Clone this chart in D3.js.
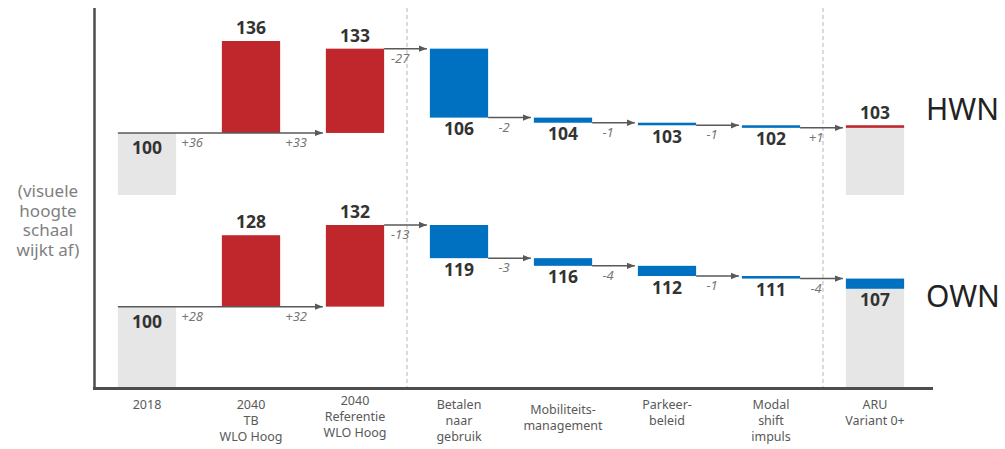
<!DOCTYPE html>
<html>
<head>
<meta charset="UTF-8">
<title>Waterval HWN / OWN</title>
<script src="https://cdn.jsdelivr.net/npm/d3@7"></script>
<style>
  body { margin: 0; background: #fff; }
  svg { display: block; font-family: "Noto Sans", "Open Sans", sans-serif; }
</style>
</head>
<body>
<svg id="chart" width="1005" height="449"></svg>
<script>
// categories (one entry per column, lines of the label)
const categories = [
  ["2018"],
  ["2040", "TB", "WLO Hoog"],
  ["2040", "Referentie", "WLO Hoog"],
  ["Betalen", "naar", "gebruik"],
  ["Mobiliteits-", "management"],
  ["Parkeer-", "beleid"],
  ["Modal", "shift", "impuls"],
  ["ARU", "Variant 0+"]
];
const labelShift = [0, 0, -4, 0, 5, 0, 0, 0];

const hwnValues = [100, 136, 133, 106, 104, 103, 102, 103];
const hwnSteps  = ["+36", "+33", "-27", "-2", "-1", "-1", "+1"];
const ownValues = [100, 128, 132, 119, 116, 112, 111, 107];
const ownSteps  = ["+28", "+32", "-13", "-3", "-4", "-1", "-4"];

// grey base bars are cut off (visual scale is not true)
const hwnFloor = 75.7;
const ownFloor = 68.5;

const note = ["(visuele", "hoogte", "schaal", "wijkt af)"];

const RED = "#c0272d", BLUE = "#0070c0", GREY = "#e6e6e6", LINE = "#595959";

const svg = d3.select("#chart");

const x = d3.scaleBand()
  .domain(d3.range(categories.length))
  .range([95, 927])
  .paddingInner(0.44)
  .paddingOuter(0.22);
const bw = x.bandwidth();

svg.append("defs").append("marker")
  .attr("id", "arrow")
  .attr("viewBox", "0 0 10 10")
  .attr("refX", 10).attr("refY", 5)
  .attr("markerWidth", 8).attr("markerHeight", 8)
  .attr("markerUnits", "userSpaceOnUse")
  .attr("orient", "auto")
  .append("path")
  .attr("d", "M0,1 L10,5 L0,9 Z")
  .attr("fill", LINE);

// dashed separators
const seps = [2, 6].map(i => (x(i) + bw + x(i + 1)) / 2);
svg.selectAll("line.sep").data(seps).join("line")
  .attr("class", "sep")
  .attr("x1", d => d).attr("x2", d => d)
  .attr("y1", 8).attr("y2", 388)
  .attr("stroke", "#c4c4c4")
  .attr("stroke-width", 1.2)
  .attr("stroke-dasharray", "4,3");

const panels = [
  { name: "HWN", values: hwnValues, steps: hwnSteps, floor: hwnFloor, range: [195, 41], nameY: 120 },
  { name: "OWN", values: ownValues, steps: ownSteps, floor: ownFloor, range: [387, 225], nameY: 307 }
];

panels.forEach(p => {
  const v = p.values;
  const y = d3.scaleLinear().domain([p.floor, d3.max(v)]).range(p.range);
  const g = svg.append("g");
  const last = v.length - 1;

  // bars
  const bars = [];
  v.forEach((val, i) => {
    if (i === 0) bars.push({ i, lo: p.floor, hi: val, fill: GREY });
    else if (i === last) {
      bars.push({ i, lo: p.floor, hi: val, fill: GREY });
      bars.push({ i, lo: Math.min(v[i - 1], val), hi: Math.max(v[i - 1], val), fill: val > v[i - 1] ? RED : BLUE });
    } else if (val > v[0] && i < 3) bars.push({ i, lo: v[0], hi: val, fill: RED });
    else bars.push({ i, lo: val, hi: v[i - 1], fill: BLUE });
  });

  g.selectAll("rect").data(bars).join("rect")
    .attr("x", d => x(d.i))
    .attr("width", bw)
    .attr("y", d => y(d.hi))
    .attr("height", d => y(d.lo) - y(d.hi))
    .attr("fill", d => d.fill);

  // connectors
  const links = [{ x0: x(0), x1: x(2) - 3, val: v[0] }];
  for (let i = 2; i < last; i++) links.push({ x0: x(i) + bw, x1: x(i + 1) - 3, val: v[i] });
  g.selectAll("line.link").data(links).join("line")
    .attr("class", "link")
    .attr("x1", d => d.x0).attr("x2", d => d.x1)
    .attr("y1", d => y(d.val)).attr("y2", d => y(d.val))
    .attr("stroke", LINE)
    .attr("stroke-width", 1.5)
    .attr("marker-end", "url(#arrow)");

  // step labels
  g.selectAll("text.step").data(p.steps).join("text")
    .attr("class", "step")
    .attr("x", (d, k) => x(k) + bw + 16)
    .attr("y", (d, k) => y(k < 2 ? v[0] : v[k]) + 14)
    .attr("text-anchor", "middle")
    .attr("font-size", 13)
    .attr("font-style", "italic")
    .attr("fill", "#767676")
    .text(d => d);

  // value labels
  const labelY = (val, i) => {
    if (i === 0) return y(val) + 21;
    if (i < 3) return y(val) - 7;
    if (i === last && val > v[i - 1]) return y(val) - 6;
    return y(val) + 17.5;
  };
  g.selectAll("text.val").data(v).join("text")
    .attr("class", "val")
    .attr("x", (d, i) => x(i) + bw / 2)
    .attr("y", (d, i) => labelY(d, i))
    .attr("text-anchor", "middle")
    .attr("font-size", 17.5)
    .attr("font-weight", "bold")
    .attr("fill", "#333")
    .text(d => d);

  g.append("text")
    .attr("x", 926)
    .attr("y", p.nameY)
    .attr("font-size", 30)
    .attr("fill", "#222")
    .text(p.name);
});

// frame
svg.append("line")
  .attr("x1", 94.5).attr("x2", 94.5).attr("y1", 8).attr("y2", 389.5)
  .attr("stroke", "#4d4d4d").attr("stroke-width", 2.5);

const xAxis = svg.append("g")
  .attr("transform", "translate(0,388)")
  .call(d3.axisBottom(x).tickSize(0).tickFormat(""));
xAxis.select(".domain").remove();
xAxis.selectAll(".tick text")
  .attr("y", 0).attr("dy", null)
  .attr("font-family", "Noto Sans, sans-serif")
  .attr("font-size", 12.5)
  .attr("fill", "#595959")
  .each(function(d) {
    d3.select(this).selectAll("tspan").data(categories[d]).join("tspan")
      .attr("x", 0)
      .attr("y", (t, j) => 21 + j * 16 + labelShift[d])
      .text(t => t);
  });

svg.append("line")
  .attr("x1", 93).attr("x2", 933).attr("y1", 388.5).attr("y2", 388.5)
  .attr("stroke", "#4d4d4d").attr("stroke-width", 3);

// side note
svg.append("text")
  .attr("text-anchor", "middle")
  .attr("font-size", 17)
  .attr("fill", "#7f7f7f")
  .selectAll("tspan").data(note).join("tspan")
  .attr("x", 48)
  .attr("y", (d, i) => 197 + i * 19.5)
  .text(d => d);
</script>
</body>
</html>
